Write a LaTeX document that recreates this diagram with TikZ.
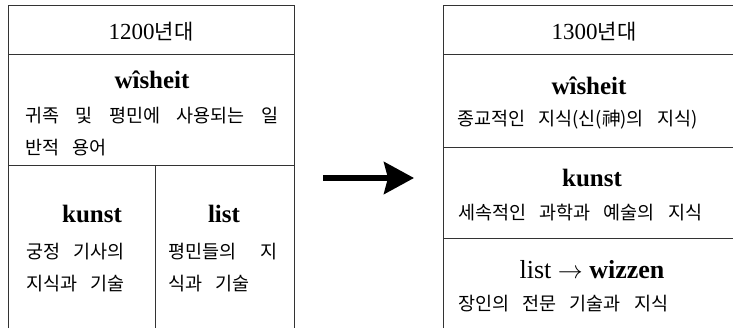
\documentclass[tikz,border=0pt]{standalone}
\usepackage{fontspec}
\setmainfont{Liberation Serif}
\newfontfamily\kr{Noto Sans CJK KR}[WordSpace=3.2]
\usetikzlibrary{arrows.meta}
\begin{document}
\begin{tikzpicture}[x=1pt,y=-1pt,
  frame/.style={line width=1pt, draw=black!80},
  ko/.style={font=\kr\fontsize{18.5}{22}\selectfont, anchor=west, inner sep=0pt},
  head/.style={font=\bfseries\fontsize{25}{28}\selectfont, inner sep=0pt},
  titletext/.style={font=\fontsize{23}{26}\selectfont, inner sep=0pt},
  bigarrow/.style={line width=5.5pt, -{Stealth[length=30pt,width=32pt,inset=4pt]}}]
\useasboundingbox (0,0) rectangle (733,329);
% left frame
\draw[frame] (8,328) -- (8,6) -- (294,6) -- (294,328);
\draw[frame] (8,55) -- (294,55);
\draw[frame] (8,165) -- (294,165);
\draw[frame] (155,165) -- (155,328);
% right frame
\draw[frame] (443,328) -- (443,6) -- (733,6);
\draw[frame] (443,55) -- (733,55);
\draw[frame] (443,147) -- (733,147);
\draw[frame] (443,238) -- (733,238);
% left texts
\node[titletext] (t1) at (151,32) {1200{\kr\fontsize{21}{24}\selectfont 년대}};
\node[head] (w1) at (152,80) {wîsheit};
\node[ko] (w1a) at (25,116) {\makebox[253pt][s]{귀족 및 평민에 사용되는 일}};
\node[ko] (w1b) at (25,148) {반적 용어};
\node[head] (k1) at (92,214) {kunst};
\node[ko] (k1a) at (26,252) {궁정 기사의};
\node[ko] (k1b) at (26,284) {지식과 기술};
\node[head] (l1) at (224,214) {list};
\node[ko] (l1a) at (168,252) {\makebox[109pt][s]{평민들의 지}};
\node[ko] (l1b) at (168,284) {식과 기술};
% right texts
\node[titletext] (t2) at (594,32) {1300{\kr\fontsize{21}{24}\selectfont 년대}};
\node[head] (w2) at (589,86) {wîsheit};
\node[ko] (w2a) at (457,120) {종교적인 지식(신(神)의 지식)};
\node[head] (k2) at (592,178) {kunst};
\node[ko] (k2a) at (458,213) {세속적인 과학과 예술의 지식};
\node[titletext, font=\fontsize{26}{28}\selectfont] (l2) at (592,270) {list $\rightarrow$ \textbf{wizzen}};
\node[ko] (l2a) at (458,304) {장인의 전문 기술과 지식};
% arrow
\coordinate (a1) at (323,178);
\coordinate (a2) at (414,178);
\draw[bigarrow] (a1) -- (a2);
\end{tikzpicture}
\end{document}
